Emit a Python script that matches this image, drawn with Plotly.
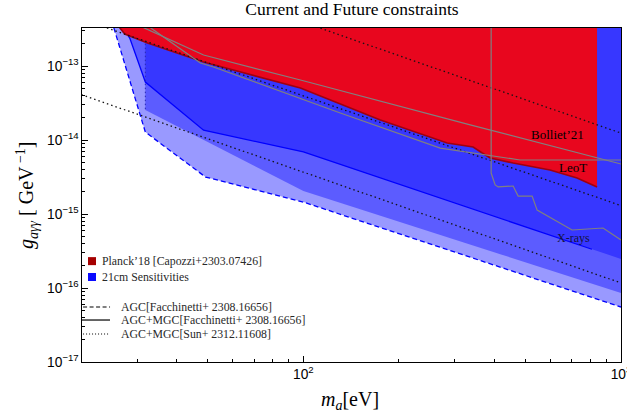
import plotly.graph_objects as go

TOP = 4e-13  # above visible top, clipped

# Planck'18 excluded region: lower boundary
planck_m = [26.4, 27.4, 32.3, 48.5, 97.9, 130.7, 174.7, 283.7, 342.4, 365.6, 387.3, 457.6, 597.8, 727.2, 840.6]
planck_g = [3.3e-13, 2.70e-13, 2.05e-13, 1.13e-13, 5.05e-14, 3.06e-14, 1.86e-14, 9.10e-15, 8.04e-15,
            6.67e-15, 5.71e-15, 4.89e-15, 3.93e-15, 3.06e-15, 2.32e-15]

# 21cm sensitivities
agc_m = [25.3, 31.8, 49.2, 100, 1000]
agc_g = [3.3e-13, 1.28e-14, 3.16e-15, 1.45e-15, 5.53e-17]

agcmgc_m = [27.0, 28.4, 31.8, 48.5, 100, 1000]
agcmgc_g = [3.3e-13, 2.39e-13, 6.08e-14, 1.36e-14, 6.89e-15, 2.47e-16]
agcmgc_line_m = [27.0, 28.4, 31.8, 48.5, 100, 810]
agcmgc_line_g = [3.3e-13, 2.39e-13, 6.08e-14, 1.36e-14, 6.89e-15, 3.34e-16]

sun_m = [31.8, 31.8, 100, 1000]
sun_g = [3.3e-13, 2.54e-14, 2.05e-15, 8.55e-17]

# AGC+MGC [Sun] dotted lines
sun_hi_m = [100, 1000]
sun_hi_g = [3.9e-13, 1.24e-14]
sun_mid_m = [20, 1000]
sun_mid_g = [4.3e-13, 1.3e-15]
sun_lo_m = [20, 1000]
sun_lo_g = [4.1e-14, 1.17e-16]

# Other bounds (grey)
bol_m = [31.4, 48.5, 97.9, 335.1, 1000]
bol_g = [3.3e-13, 1.41e-13, 6.47e-14, 1.60e-14, 4.74e-15]
leo_m = [33.0, 47.4, 52.1, 130.7, 269.7, 360.3, 481.3, 1000]
leo_g = [3.3e-13, 1.10e-13, 9.69e-14, 2.32e-14, 7.79e-15, 6.47e-15, 5.37e-15, 5.37e-15]
xr_m = [390.1, 390.1, 401.6, 410.5, 457.6, 474.4, 525.0, 544.4, 701.3, 877.9, 1000]
xr_g = [4e-13, 3.58e-15, 2.47e-15, 2.32e-15, 2.39e-15, 1.75e-15, 1.75e-15, 1.13e-15, 6.08e-16, 6.47e-16, 4.46e-16]

BLUE_FILL = "rgba(0,0,255,0.4)"
RED_FILL = "rgb(232,6,30)"
SERIF = "Liberation Serif, Times New Roman, serif"


def region(ms, gs):
    return ms + [ms[-1], ms[0]], gs + [TOP, TOP]


fig = go.Figure()

for ms, gs in [(agc_m, agc_g), (agcmgc_m, agcmgc_g), (sun_m, sun_g)]:
    xs, ys = region(ms, gs)
    fig.add_trace(go.Scatter(x=xs, y=ys, fill="toself", fillcolor=BLUE_FILL, mode="none",
                             hoverinfo="skip", showlegend=False))

fig.add_trace(go.Scatter(x=agc_m, y=agc_g, mode="lines",
                         line=dict(color="rgb(0,0,255)", width=1.3, dash="5px,3px"), showlegend=False))
fig.add_trace(go.Scatter(x=agcmgc_line_m, y=agcmgc_line_g, mode="lines",
                         line=dict(color="rgb(0,0,255)", width=1.3), showlegend=False))
fig.add_trace(go.Scatter(x=sun_m[:2], y=sun_g[:2], mode="lines",
                         line=dict(color="rgb(40,40,180)", width=1, dash="1.5px,2.5px"), showlegend=False))

xs, ys = region(planck_m, planck_g)
fig.add_trace(go.Scatter(x=xs, y=ys, fill="toself", fillcolor=RED_FILL, mode="none",
                         hoverinfo="skip", showlegend=False))
fig.add_trace(go.Scatter(x=planck_m, y=planck_g, mode="lines",
                         line=dict(color="rgb(160,0,15)", width=1.6), showlegend=False))

for ms, gs in [(sun_hi_m, sun_hi_g), (sun_mid_m, sun_mid_g), (sun_lo_m, sun_lo_g)]:
    fig.add_trace(go.Scatter(x=ms, y=gs, mode="lines",
                             line=dict(color="rgb(20,20,20)", width=1.3, dash="1.5px,3px"), showlegend=False))

for ms, gs in [(bol_m, bol_g), (leo_m, leo_g), (xr_m, xr_g)]:
    fig.add_trace(go.Scatter(x=ms, y=gs, mode="lines",
                             line=dict(color="rgb(128,128,128)", width=1.2), showlegend=False))

LEG_FONT = dict(family=SERIF, size=11.8, color="rgb(40,40,40)")
annotations = [
    dict(x=2.799, y=-13.932, xref="x", yref="y", text="Bolliet’21", showarrow=False,
         font=dict(family=SERIF, size=13, color="black")),
    dict(x=2.849, y=-14.365, xref="x", yref="y", text="LeoT", showarrow=False,
         font=dict(family=SERIF, size=13, color="black")),
    dict(x=2.852, y=-15.324, xref="x", yref="y", text="X-rays", showarrow=False,
         font=dict(family=SERIF, size=12, color="rgb(20,20,60)")),
    dict(x=0.0334, y=0.302, xref="paper", yref="paper", xanchor="left", yanchor="middle",
         text="Planck’18 [Capozzi+2303.07426]", showarrow=False, font=LEG_FONT),
    dict(x=0.0334, y=0.2545, xref="paper", yref="paper", xanchor="left", yanchor="middle",
         text="21cm Sensitivities", showarrow=False, font=LEG_FONT),
    dict(x=0.0686, y=0.1647, xref="paper", yref="paper", xanchor="left", yanchor="middle",
         text="AGC[Facchinetti+ 2308.16656]", showarrow=False, font=LEG_FONT),
    dict(x=0.0686, y=0.1257, xref="paper", yref="paper", xanchor="left", yanchor="middle",
         text="AGC+MGC[Facchinetti+ 2308.16656]", showarrow=False, font=LEG_FONT),
    dict(x=0.0686, y=0.0838, xref="paper", yref="paper", xanchor="left", yanchor="middle",
         text="AGC+MGC[Sun+ 2312.11608]", showarrow=False, font=LEG_FONT),
    dict(x=-0.102, y=0.5, xref="paper", yref="paper", xanchor="center", yanchor="middle", textangle=-90,
         text="<i>g</i><sub><i>aγγ</i></sub> [ GeV<sup> −1</sup>]", showarrow=False,
         font=dict(family=SERIF, size=20, color="black")),
    dict(x=0.497, y=-0.114, xref="paper", yref="paper", xanchor="center", yanchor="middle",
         text="<i>m</i><sub><i>a</i></sub>[eV]", showarrow=False,
         font=dict(family=SERIF, size=20, color="black")),
]

shapes = [
    dict(type="rect", xref="paper", yref="paper", x0=0.0111, x1=0.026, y0=0.290, y1=0.314,
         fillcolor="rgb(165,0,0)", line=dict(width=0)),
    dict(type="rect", xref="paper", yref="paper", x0=0.0111, x1=0.026, y0=0.2425, y1=0.2665,
         fillcolor="rgb(10,10,255)", line=dict(width=0)),
    dict(type="line", xref="paper", yref="paper", x0=0.002, x1=0.052, y0=0.1647, y1=0.1647,
         line=dict(color="black", width=1.2, dash="4px,2.5px")),
    dict(type="line", xref="paper", yref="paper", x0=0.0, x1=0.052, y0=0.1257, y1=0.1257,
         line=dict(color="black", width=1.2)),
    dict(type="line", xref="paper", yref="paper", x0=0.002, x1=0.052, y0=0.0838, y1=0.0838,
         line=dict(color="black", width=1.0, dash="1px,2px")),
]

axis_common = dict(type="log", dtick=1, exponentformat="power", showexponent="all",
                   ticks="inside", ticklen=6, tickwidth=1, tickcolor="black",
                   showline=True, linecolor="black", linewidth=1.2, mirror=True,
                   showgrid=False, zeroline=False, automargin=False, ticklabeloverflow="allow",
                   tickfont=dict(family="Liberation Sans, Arial, sans-serif", size=11, color="black"),
                   minor=dict(ticks="inside", ticklen=3, tickcolor="black", dtick="D1", showgrid=False))

fig.update_layout(
    width=627, height=419,
    margin=dict(l=82, r=6, t=28, b=57, autoexpand=False),
    paper_bgcolor="white", plot_bgcolor="white",
    title=dict(text="Current and Future constraints", x=0.5614, xanchor="center", y=0.9785, yanchor="middle",
               font=dict(family=SERIF, size=17.5, color="black")),
    xaxis=dict(range=[1.303, 3.0], **axis_common),
    yaxis=dict(range=[-17, -12.486], **axis_common),
    annotations=annotations,
    shapes=shapes,
    showlegend=False,
)

fig.write_html("out.html", config={"displayModeBar": False},
               post_script="document.body.style.margin='0px';document.body.style.overflow='hidden';")
